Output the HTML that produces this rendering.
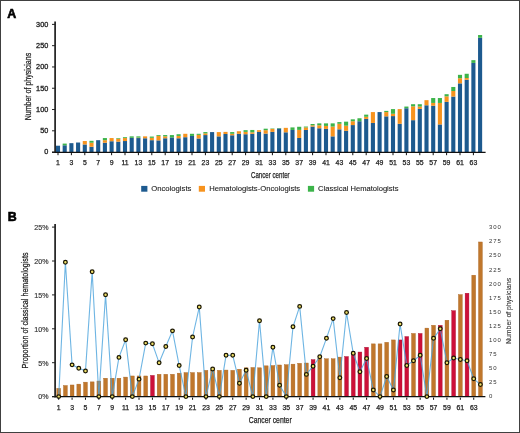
<!DOCTYPE html>
<html><head><meta charset="utf-8"><style>
html,body{margin:0;padding:0;background:#fff;}
#c{position:relative;will-change:transform;width:520px;height:433px;overflow:hidden;background:#fff;}
svg{position:absolute;left:0;top:0;filter:blur(0.3px);}
#b{position:absolute;left:0;top:0;width:518px;height:431px;border:1px solid #404040;}
</style></head><body><div id="c">
<svg width="520" height="433" viewBox="0 0 520 433">
<rect x="0" y="0" width="520" height="433" fill="#fff"/>
<text x="7.2" y="17.6" font-family="Liberation Sans, sans-serif" font-weight="bold" font-size="12.4" fill="#000" stroke="#000" stroke-width="0.6">A</text>
<rect x="55.95" y="145.71" width="4.1" height="6.39" fill="#1d5a8f"/>
<rect x="62.65" y="145.29" width="4.1" height="6.81" fill="#1d5a8f"/>
<rect x="62.65" y="143.59" width="4.1" height="1.70" fill="#3cb44a"/>
<rect x="69.35" y="143.16" width="4.1" height="8.94" fill="#1d5a8f"/>
<rect x="76.05" y="142.52" width="4.1" height="9.58" fill="#1d5a8f"/>
<rect x="82.75" y="144.44" width="4.1" height="7.66" fill="#1d5a8f"/>
<rect x="82.75" y="141.03" width="4.1" height="3.41" fill="#f7931e"/>
<rect x="89.45" y="146.78" width="4.1" height="5.32" fill="#1d5a8f"/>
<rect x="89.45" y="142.73" width="4.1" height="4.04" fill="#f7931e"/>
<rect x="89.45" y="140.82" width="4.1" height="1.92" fill="#3cb44a"/>
<rect x="96.15" y="140.18" width="4.1" height="11.92" fill="#1d5a8f"/>
<rect x="102.85" y="142.73" width="4.1" height="9.37" fill="#1d5a8f"/>
<rect x="102.85" y="140.18" width="4.1" height="2.55" fill="#f7931e"/>
<rect x="102.85" y="138.05" width="4.1" height="2.13" fill="#3cb44a"/>
<rect x="109.55" y="141.24" width="4.1" height="10.86" fill="#1d5a8f"/>
<rect x="109.55" y="138.05" width="4.1" height="3.19" fill="#f7931e"/>
<rect x="116.25" y="141.67" width="4.1" height="10.43" fill="#1d5a8f"/>
<rect x="116.25" y="138.69" width="4.1" height="2.98" fill="#f7931e"/>
<rect x="116.25" y="138.05" width="4.1" height="0.64" fill="#3cb44a"/>
<rect x="122.95" y="141.03" width="4.1" height="11.07" fill="#1d5a8f"/>
<rect x="122.95" y="138.05" width="4.1" height="2.98" fill="#f7931e"/>
<rect x="122.95" y="137.20" width="4.1" height="0.85" fill="#3cb44a"/>
<rect x="129.65" y="137.84" width="4.1" height="14.26" fill="#1d5a8f"/>
<rect x="129.65" y="136.35" width="4.1" height="1.49" fill="#3cb44a"/>
<rect x="136.35" y="138.05" width="4.1" height="14.05" fill="#1d5a8f"/>
<rect x="136.35" y="137.63" width="4.1" height="0.43" fill="#f7931e"/>
<rect x="136.35" y="136.35" width="4.1" height="1.28" fill="#3cb44a"/>
<rect x="143.05" y="138.26" width="4.1" height="13.84" fill="#1d5a8f"/>
<rect x="143.05" y="136.35" width="4.1" height="1.92" fill="#f7931e"/>
<rect x="149.75" y="140.18" width="4.1" height="11.92" fill="#1d5a8f"/>
<rect x="149.75" y="137.84" width="4.1" height="2.34" fill="#f7931e"/>
<rect x="149.75" y="136.56" width="4.1" height="1.28" fill="#3cb44a"/>
<rect x="156.45" y="140.39" width="4.1" height="11.71" fill="#1d5a8f"/>
<rect x="156.45" y="135.92" width="4.1" height="4.47" fill="#f7931e"/>
<rect x="156.45" y="135.07" width="4.1" height="0.85" fill="#3cb44a"/>
<rect x="163.15" y="138.26" width="4.1" height="13.84" fill="#1d5a8f"/>
<rect x="163.15" y="136.35" width="4.1" height="1.92" fill="#f7931e"/>
<rect x="163.15" y="135.07" width="4.1" height="1.28" fill="#3cb44a"/>
<rect x="169.85" y="137.41" width="4.1" height="14.69" fill="#1d5a8f"/>
<rect x="169.85" y="135.07" width="4.1" height="2.34" fill="#3cb44a"/>
<rect x="176.55" y="138.26" width="4.1" height="13.84" fill="#1d5a8f"/>
<rect x="176.55" y="135.92" width="4.1" height="2.34" fill="#f7931e"/>
<rect x="176.55" y="134.22" width="4.1" height="1.70" fill="#3cb44a"/>
<rect x="183.25" y="137.20" width="4.1" height="14.90" fill="#1d5a8f"/>
<rect x="183.25" y="133.79" width="4.1" height="3.41" fill="#f7931e"/>
<rect x="189.95" y="135.92" width="4.1" height="16.18" fill="#1d5a8f"/>
<rect x="189.95" y="133.79" width="4.1" height="2.13" fill="#3cb44a"/>
<rect x="196.65" y="138.48" width="4.1" height="13.62" fill="#1d5a8f"/>
<rect x="196.65" y="134.86" width="4.1" height="3.62" fill="#f7931e"/>
<rect x="196.65" y="133.79" width="4.1" height="1.06" fill="#3cb44a"/>
<rect x="203.35" y="135.07" width="4.1" height="17.03" fill="#1d5a8f"/>
<rect x="203.35" y="133.37" width="4.1" height="1.70" fill="#f7931e"/>
<rect x="203.35" y="132.09" width="4.1" height="1.28" fill="#3cb44a"/>
<rect x="210.05" y="132.09" width="4.1" height="20.01" fill="#1d5a8f"/>
<rect x="216.75" y="136.35" width="4.1" height="15.75" fill="#1d5a8f"/>
<rect x="216.75" y="132.09" width="4.1" height="4.26" fill="#f7931e"/>
<rect x="223.45" y="134.01" width="4.1" height="18.09" fill="#1d5a8f"/>
<rect x="223.45" y="131.88" width="4.1" height="2.13" fill="#f7931e"/>
<rect x="230.15" y="135.28" width="4.1" height="16.82" fill="#1d5a8f"/>
<rect x="230.15" y="133.79" width="4.1" height="1.49" fill="#f7931e"/>
<rect x="230.15" y="132.09" width="4.1" height="1.70" fill="#3cb44a"/>
<rect x="236.85" y="133.79" width="4.1" height="18.31" fill="#1d5a8f"/>
<rect x="236.85" y="131.24" width="4.1" height="2.55" fill="#f7931e"/>
<rect x="243.55" y="134.22" width="4.1" height="17.88" fill="#1d5a8f"/>
<rect x="243.55" y="131.88" width="4.1" height="2.34" fill="#f7931e"/>
<rect x="243.55" y="130.18" width="4.1" height="1.70" fill="#3cb44a"/>
<rect x="250.25" y="133.79" width="4.1" height="18.31" fill="#1d5a8f"/>
<rect x="250.25" y="132.30" width="4.1" height="1.49" fill="#f7931e"/>
<rect x="250.25" y="129.96" width="4.1" height="2.34" fill="#3cb44a"/>
<rect x="256.95" y="131.88" width="4.1" height="20.22" fill="#1d5a8f"/>
<rect x="256.95" y="130.18" width="4.1" height="1.70" fill="#f7931e"/>
<rect x="263.65" y="133.58" width="4.1" height="18.52" fill="#1d5a8f"/>
<rect x="263.65" y="130.18" width="4.1" height="3.41" fill="#f7931e"/>
<rect x="263.65" y="128.69" width="4.1" height="1.49" fill="#3cb44a"/>
<rect x="270.35" y="131.88" width="4.1" height="20.22" fill="#1d5a8f"/>
<rect x="270.35" y="128.90" width="4.1" height="2.98" fill="#f7931e"/>
<rect x="270.35" y="128.47" width="4.1" height="0.43" fill="#3cb44a"/>
<rect x="277.05" y="128.47" width="4.1" height="23.63" fill="#1d5a8f"/>
<rect x="277.05" y="128.05" width="4.1" height="0.43" fill="#3cb44a"/>
<rect x="283.75" y="132.30" width="4.1" height="19.80" fill="#1d5a8f"/>
<rect x="283.75" y="127.84" width="4.1" height="4.47" fill="#f7931e"/>
<rect x="290.45" y="129.96" width="4.1" height="22.14" fill="#1d5a8f"/>
<rect x="290.45" y="127.41" width="4.1" height="2.55" fill="#3cb44a"/>
<rect x="297.15" y="137.97" width="4.1" height="14.13" fill="#1d5a8f"/>
<rect x="297.15" y="129.88" width="4.1" height="8.09" fill="#f7931e"/>
<rect x="297.15" y="126.77" width="4.1" height="3.11" fill="#3cb44a"/>
<rect x="303.85" y="129.96" width="4.1" height="22.14" fill="#1d5a8f"/>
<rect x="303.85" y="127.41" width="4.1" height="2.55" fill="#f7931e"/>
<rect x="303.85" y="126.56" width="4.1" height="0.85" fill="#3cb44a"/>
<rect x="310.55" y="126.56" width="4.1" height="25.54" fill="#1d5a8f"/>
<rect x="310.55" y="125.28" width="4.1" height="1.28" fill="#f7931e"/>
<rect x="310.55" y="124.00" width="4.1" height="1.28" fill="#3cb44a"/>
<rect x="317.25" y="128.26" width="4.1" height="23.84" fill="#1d5a8f"/>
<rect x="317.25" y="125.28" width="4.1" height="2.98" fill="#f7931e"/>
<rect x="317.25" y="123.37" width="4.1" height="1.92" fill="#3cb44a"/>
<rect x="323.95" y="128.90" width="4.1" height="23.20" fill="#1d5a8f"/>
<rect x="323.95" y="125.92" width="4.1" height="2.98" fill="#f7931e"/>
<rect x="323.95" y="123.37" width="4.1" height="2.55" fill="#3cb44a"/>
<rect x="330.65" y="136.35" width="4.1" height="15.75" fill="#1d5a8f"/>
<rect x="330.65" y="126.56" width="4.1" height="9.79" fill="#f7931e"/>
<rect x="330.65" y="123.37" width="4.1" height="3.19" fill="#3cb44a"/>
<rect x="337.35" y="129.33" width="4.1" height="22.77" fill="#1d5a8f"/>
<rect x="337.35" y="123.79" width="4.1" height="5.53" fill="#f7931e"/>
<rect x="337.35" y="122.09" width="4.1" height="1.70" fill="#3cb44a"/>
<rect x="344.05" y="130.81" width="4.1" height="21.28" fill="#1d5a8f"/>
<rect x="344.05" y="125.71" width="4.1" height="5.11" fill="#f7931e"/>
<rect x="344.05" y="121.66" width="4.1" height="4.04" fill="#3cb44a"/>
<rect x="350.75" y="125.07" width="4.1" height="27.03" fill="#1d5a8f"/>
<rect x="350.75" y="121.24" width="4.1" height="3.83" fill="#f7931e"/>
<rect x="350.75" y="119.32" width="4.1" height="1.92" fill="#3cb44a"/>
<rect x="357.45" y="121.24" width="4.1" height="30.86" fill="#1d5a8f"/>
<rect x="357.45" y="118.26" width="4.1" height="2.98" fill="#3cb44a"/>
<rect x="364.15" y="118.90" width="4.1" height="33.20" fill="#1d5a8f"/>
<rect x="364.15" y="116.77" width="4.1" height="2.13" fill="#f7931e"/>
<rect x="364.15" y="114.64" width="4.1" height="2.13" fill="#3cb44a"/>
<rect x="370.85" y="122.94" width="4.1" height="29.16" fill="#1d5a8f"/>
<rect x="370.85" y="112.08" width="4.1" height="10.86" fill="#f7931e"/>
<rect x="377.55" y="112.08" width="4.1" height="40.02" fill="#1d5a8f"/>
<rect x="384.25" y="116.34" width="4.1" height="35.76" fill="#1d5a8f"/>
<rect x="384.25" y="112.08" width="4.1" height="4.26" fill="#f7931e"/>
<rect x="384.25" y="110.89" width="4.1" height="1.19" fill="#3cb44a"/>
<rect x="390.95" y="116.09" width="4.1" height="36.01" fill="#1d5a8f"/>
<rect x="390.95" y="113.79" width="4.1" height="2.30" fill="#f7931e"/>
<rect x="390.95" y="109.10" width="4.1" height="4.68" fill="#3cb44a"/>
<rect x="397.65" y="123.79" width="4.1" height="28.31" fill="#1d5a8f"/>
<rect x="397.65" y="109.10" width="4.1" height="14.69" fill="#f7931e"/>
<rect x="404.35" y="108.25" width="4.1" height="43.85" fill="#1d5a8f"/>
<rect x="404.35" y="106.55" width="4.1" height="1.70" fill="#3cb44a"/>
<rect x="411.05" y="120.17" width="4.1" height="31.93" fill="#1d5a8f"/>
<rect x="411.05" y="106.34" width="4.1" height="13.84" fill="#f7931e"/>
<rect x="411.05" y="104.21" width="4.1" height="2.13" fill="#3cb44a"/>
<rect x="417.75" y="108.89" width="4.1" height="43.21" fill="#1d5a8f"/>
<rect x="417.75" y="106.55" width="4.1" height="2.34" fill="#f7931e"/>
<rect x="417.75" y="104.21" width="4.1" height="2.34" fill="#3cb44a"/>
<rect x="424.45" y="105.27" width="4.1" height="46.83" fill="#1d5a8f"/>
<rect x="424.45" y="100.16" width="4.1" height="5.11" fill="#f7931e"/>
<rect x="431.15" y="105.70" width="4.1" height="46.40" fill="#1d5a8f"/>
<rect x="431.15" y="102.93" width="4.1" height="2.77" fill="#f7931e"/>
<rect x="431.15" y="98.04" width="4.1" height="4.90" fill="#3cb44a"/>
<rect x="437.85" y="124.43" width="4.1" height="27.67" fill="#1d5a8f"/>
<rect x="437.85" y="102.93" width="4.1" height="21.50" fill="#f7931e"/>
<rect x="437.85" y="98.04" width="4.1" height="4.90" fill="#3cb44a"/>
<rect x="444.55" y="101.87" width="4.1" height="50.23" fill="#1d5a8f"/>
<rect x="444.55" y="96.33" width="4.1" height="5.53" fill="#f7931e"/>
<rect x="444.55" y="94.20" width="4.1" height="2.13" fill="#3cb44a"/>
<rect x="451.25" y="96.55" width="4.1" height="55.55" fill="#1d5a8f"/>
<rect x="451.25" y="91.01" width="4.1" height="5.53" fill="#f7931e"/>
<rect x="451.25" y="86.97" width="4.1" height="4.04" fill="#3cb44a"/>
<rect x="457.95" y="83.35" width="4.1" height="68.75" fill="#1d5a8f"/>
<rect x="457.95" y="78.24" width="4.1" height="5.11" fill="#f7931e"/>
<rect x="457.95" y="74.84" width="4.1" height="3.41" fill="#3cb44a"/>
<rect x="464.65" y="79.73" width="4.1" height="72.37" fill="#1d5a8f"/>
<rect x="464.65" y="78.03" width="4.1" height="1.70" fill="#f7931e"/>
<rect x="464.65" y="73.77" width="4.1" height="4.26" fill="#3cb44a"/>
<rect x="471.35" y="62.92" width="4.1" height="89.18" fill="#1d5a8f"/>
<rect x="471.35" y="60.15" width="4.1" height="2.77" fill="#3cb44a"/>
<rect x="478.05" y="37.80" width="4.1" height="114.30" fill="#1d5a8f"/>
<rect x="478.05" y="35.03" width="4.1" height="2.77" fill="#3cb44a"/>
<line x1="55.1" y1="21.5" x2="55.1" y2="152.9" stroke="#111" stroke-width="1.6"/>
<line x1="52" y1="152.35" x2="485.6" y2="152.35" stroke="#111" stroke-width="1.15"/>
<line x1="52" y1="152.10" x2="55" y2="152.10" stroke="#222" stroke-width="1"/>
<text x="48.3" y="154.40" font-family="Liberation Sans, sans-serif" font-size="7.3" fill="#222" stroke="#222" stroke-width="0.3" text-anchor="end">0</text>
<line x1="52" y1="130.81" x2="55" y2="130.81" stroke="#222" stroke-width="1"/>
<text x="48.3" y="133.12" font-family="Liberation Sans, sans-serif" font-size="7.3" fill="#222" stroke="#222" stroke-width="0.3" text-anchor="end">50</text>
<line x1="52" y1="109.53" x2="55" y2="109.53" stroke="#222" stroke-width="1"/>
<text x="48.3" y="111.83" font-family="Liberation Sans, sans-serif" font-size="7.3" fill="#222" stroke="#222" stroke-width="0.3" text-anchor="end">100</text>
<line x1="52" y1="88.24" x2="55" y2="88.24" stroke="#222" stroke-width="1"/>
<text x="48.3" y="90.54" font-family="Liberation Sans, sans-serif" font-size="7.3" fill="#222" stroke="#222" stroke-width="0.3" text-anchor="end">150</text>
<line x1="52" y1="66.96" x2="55" y2="66.96" stroke="#222" stroke-width="1"/>
<text x="48.3" y="69.26" font-family="Liberation Sans, sans-serif" font-size="7.3" fill="#222" stroke="#222" stroke-width="0.3" text-anchor="end">200</text>
<line x1="52" y1="45.67" x2="55" y2="45.67" stroke="#222" stroke-width="1"/>
<text x="48.3" y="47.97" font-family="Liberation Sans, sans-serif" font-size="7.3" fill="#222" stroke="#222" stroke-width="0.3" text-anchor="end">250</text>
<line x1="52" y1="24.39" x2="55" y2="24.39" stroke="#222" stroke-width="1"/>
<text x="48.3" y="26.69" font-family="Liberation Sans, sans-serif" font-size="7.3" fill="#222" stroke="#222" stroke-width="0.3" text-anchor="end">300</text>
<line x1="58.00" y1="153" x2="58.00" y2="155.2" stroke="#111" stroke-width="1"/>
<text x="58.00" y="164.6" font-family="Liberation Sans, sans-serif" font-size="6.9" fill="#222" stroke="#222" stroke-width="0.25" text-anchor="middle">1</text>
<line x1="71.40" y1="153" x2="71.40" y2="155.2" stroke="#111" stroke-width="1"/>
<text x="71.40" y="164.6" font-family="Liberation Sans, sans-serif" font-size="6.9" fill="#222" stroke="#222" stroke-width="0.25" text-anchor="middle">3</text>
<line x1="84.80" y1="153" x2="84.80" y2="155.2" stroke="#111" stroke-width="1"/>
<text x="84.80" y="164.6" font-family="Liberation Sans, sans-serif" font-size="6.9" fill="#222" stroke="#222" stroke-width="0.25" text-anchor="middle">5</text>
<line x1="98.20" y1="153" x2="98.20" y2="155.2" stroke="#111" stroke-width="1"/>
<text x="98.20" y="164.6" font-family="Liberation Sans, sans-serif" font-size="6.9" fill="#222" stroke="#222" stroke-width="0.25" text-anchor="middle">7</text>
<line x1="111.60" y1="153" x2="111.60" y2="155.2" stroke="#111" stroke-width="1"/>
<text x="111.60" y="164.6" font-family="Liberation Sans, sans-serif" font-size="6.9" fill="#222" stroke="#222" stroke-width="0.25" text-anchor="middle">9</text>
<line x1="125.00" y1="153" x2="125.00" y2="155.2" stroke="#111" stroke-width="1"/>
<text x="125.00" y="164.6" font-family="Liberation Sans, sans-serif" font-size="6.9" fill="#222" stroke="#222" stroke-width="0.25" text-anchor="middle">11</text>
<line x1="138.40" y1="153" x2="138.40" y2="155.2" stroke="#111" stroke-width="1"/>
<text x="138.40" y="164.6" font-family="Liberation Sans, sans-serif" font-size="6.9" fill="#222" stroke="#222" stroke-width="0.25" text-anchor="middle">13</text>
<line x1="151.80" y1="153" x2="151.80" y2="155.2" stroke="#111" stroke-width="1"/>
<text x="151.80" y="164.6" font-family="Liberation Sans, sans-serif" font-size="6.9" fill="#222" stroke="#222" stroke-width="0.25" text-anchor="middle">15</text>
<line x1="165.20" y1="153" x2="165.20" y2="155.2" stroke="#111" stroke-width="1"/>
<text x="165.20" y="164.6" font-family="Liberation Sans, sans-serif" font-size="6.9" fill="#222" stroke="#222" stroke-width="0.25" text-anchor="middle">17</text>
<line x1="178.60" y1="153" x2="178.60" y2="155.2" stroke="#111" stroke-width="1"/>
<text x="178.60" y="164.6" font-family="Liberation Sans, sans-serif" font-size="6.9" fill="#222" stroke="#222" stroke-width="0.25" text-anchor="middle">19</text>
<line x1="192.00" y1="153" x2="192.00" y2="155.2" stroke="#111" stroke-width="1"/>
<text x="192.00" y="164.6" font-family="Liberation Sans, sans-serif" font-size="6.9" fill="#222" stroke="#222" stroke-width="0.25" text-anchor="middle">21</text>
<line x1="205.40" y1="153" x2="205.40" y2="155.2" stroke="#111" stroke-width="1"/>
<text x="205.40" y="164.6" font-family="Liberation Sans, sans-serif" font-size="6.9" fill="#222" stroke="#222" stroke-width="0.25" text-anchor="middle">23</text>
<line x1="218.80" y1="153" x2="218.80" y2="155.2" stroke="#111" stroke-width="1"/>
<text x="218.80" y="164.6" font-family="Liberation Sans, sans-serif" font-size="6.9" fill="#222" stroke="#222" stroke-width="0.25" text-anchor="middle">25</text>
<line x1="232.20" y1="153" x2="232.20" y2="155.2" stroke="#111" stroke-width="1"/>
<text x="232.20" y="164.6" font-family="Liberation Sans, sans-serif" font-size="6.9" fill="#222" stroke="#222" stroke-width="0.25" text-anchor="middle">27</text>
<line x1="245.60" y1="153" x2="245.60" y2="155.2" stroke="#111" stroke-width="1"/>
<text x="245.60" y="164.6" font-family="Liberation Sans, sans-serif" font-size="6.9" fill="#222" stroke="#222" stroke-width="0.25" text-anchor="middle">29</text>
<line x1="259.00" y1="153" x2="259.00" y2="155.2" stroke="#111" stroke-width="1"/>
<text x="259.00" y="164.6" font-family="Liberation Sans, sans-serif" font-size="6.9" fill="#222" stroke="#222" stroke-width="0.25" text-anchor="middle">31</text>
<line x1="272.40" y1="153" x2="272.40" y2="155.2" stroke="#111" stroke-width="1"/>
<text x="272.40" y="164.6" font-family="Liberation Sans, sans-serif" font-size="6.9" fill="#222" stroke="#222" stroke-width="0.25" text-anchor="middle">33</text>
<line x1="285.80" y1="153" x2="285.80" y2="155.2" stroke="#111" stroke-width="1"/>
<text x="285.80" y="164.6" font-family="Liberation Sans, sans-serif" font-size="6.9" fill="#222" stroke="#222" stroke-width="0.25" text-anchor="middle">35</text>
<line x1="299.20" y1="153" x2="299.20" y2="155.2" stroke="#111" stroke-width="1"/>
<text x="299.20" y="164.6" font-family="Liberation Sans, sans-serif" font-size="6.9" fill="#222" stroke="#222" stroke-width="0.25" text-anchor="middle">37</text>
<line x1="312.60" y1="153" x2="312.60" y2="155.2" stroke="#111" stroke-width="1"/>
<text x="312.60" y="164.6" font-family="Liberation Sans, sans-serif" font-size="6.9" fill="#222" stroke="#222" stroke-width="0.25" text-anchor="middle">39</text>
<line x1="326.00" y1="153" x2="326.00" y2="155.2" stroke="#111" stroke-width="1"/>
<text x="326.00" y="164.6" font-family="Liberation Sans, sans-serif" font-size="6.9" fill="#222" stroke="#222" stroke-width="0.25" text-anchor="middle">41</text>
<line x1="339.40" y1="153" x2="339.40" y2="155.2" stroke="#111" stroke-width="1"/>
<text x="339.40" y="164.6" font-family="Liberation Sans, sans-serif" font-size="6.9" fill="#222" stroke="#222" stroke-width="0.25" text-anchor="middle">43</text>
<line x1="352.80" y1="153" x2="352.80" y2="155.2" stroke="#111" stroke-width="1"/>
<text x="352.80" y="164.6" font-family="Liberation Sans, sans-serif" font-size="6.9" fill="#222" stroke="#222" stroke-width="0.25" text-anchor="middle">45</text>
<line x1="366.20" y1="153" x2="366.20" y2="155.2" stroke="#111" stroke-width="1"/>
<text x="366.20" y="164.6" font-family="Liberation Sans, sans-serif" font-size="6.9" fill="#222" stroke="#222" stroke-width="0.25" text-anchor="middle">47</text>
<line x1="379.60" y1="153" x2="379.60" y2="155.2" stroke="#111" stroke-width="1"/>
<text x="379.60" y="164.6" font-family="Liberation Sans, sans-serif" font-size="6.9" fill="#222" stroke="#222" stroke-width="0.25" text-anchor="middle">49</text>
<line x1="393.00" y1="153" x2="393.00" y2="155.2" stroke="#111" stroke-width="1"/>
<text x="393.00" y="164.6" font-family="Liberation Sans, sans-serif" font-size="6.9" fill="#222" stroke="#222" stroke-width="0.25" text-anchor="middle">51</text>
<line x1="406.40" y1="153" x2="406.40" y2="155.2" stroke="#111" stroke-width="1"/>
<text x="406.40" y="164.6" font-family="Liberation Sans, sans-serif" font-size="6.9" fill="#222" stroke="#222" stroke-width="0.25" text-anchor="middle">53</text>
<line x1="419.80" y1="153" x2="419.80" y2="155.2" stroke="#111" stroke-width="1"/>
<text x="419.80" y="164.6" font-family="Liberation Sans, sans-serif" font-size="6.9" fill="#222" stroke="#222" stroke-width="0.25" text-anchor="middle">55</text>
<line x1="433.20" y1="153" x2="433.20" y2="155.2" stroke="#111" stroke-width="1"/>
<text x="433.20" y="164.6" font-family="Liberation Sans, sans-serif" font-size="6.9" fill="#222" stroke="#222" stroke-width="0.25" text-anchor="middle">57</text>
<line x1="446.60" y1="153" x2="446.60" y2="155.2" stroke="#111" stroke-width="1"/>
<text x="446.60" y="164.6" font-family="Liberation Sans, sans-serif" font-size="6.9" fill="#222" stroke="#222" stroke-width="0.25" text-anchor="middle">59</text>
<line x1="460.00" y1="153" x2="460.00" y2="155.2" stroke="#111" stroke-width="1"/>
<text x="460.00" y="164.6" font-family="Liberation Sans, sans-serif" font-size="6.9" fill="#222" stroke="#222" stroke-width="0.25" text-anchor="middle">61</text>
<line x1="473.40" y1="153" x2="473.40" y2="155.2" stroke="#111" stroke-width="1"/>
<text x="473.40" y="164.6" font-family="Liberation Sans, sans-serif" font-size="6.9" fill="#222" stroke="#222" stroke-width="0.25" text-anchor="middle">63</text>
<text x="251" y="177.5" font-family="Liberation Sans, sans-serif" font-size="8.6" fill="#222" stroke="#222" stroke-width="0.25" textLength="38.6" lengthAdjust="spacingAndGlyphs">Cancer center</text>
<text transform="translate(31,120.3) rotate(-90)" x="0" y="0" font-family="Liberation Sans, sans-serif" font-size="9.4" fill="#222" stroke="#222" stroke-width="0.25" textLength="67.5" lengthAdjust="spacingAndGlyphs">Number of physicians</text>
<rect x="141.2" y="185.9" width="6.2" height="5.8" fill="#1d5a8f"/>
<text x="151.2" y="191.4" font-family="Liberation Sans, sans-serif" font-size="7.6" fill="#1a1a1a" stroke="#1a1a1a" stroke-width="0.1" textLength="40.2" lengthAdjust="spacingAndGlyphs">Oncologists</text>
<rect x="198.8" y="185.9" width="6.2" height="5.8" fill="#f7931e"/>
<text x="209.2" y="191.4" font-family="Liberation Sans, sans-serif" font-size="7.6" fill="#1a1a1a" stroke="#1a1a1a" stroke-width="0.1" textLength="91" lengthAdjust="spacingAndGlyphs">Hematologists-Oncologists</text>
<rect x="307.9" y="185.9" width="6.2" height="5.8" fill="#3cb44a"/>
<text x="318" y="191.4" font-family="Liberation Sans, sans-serif" font-size="7.6" fill="#1a1a1a" stroke="#1a1a1a" stroke-width="0.1" textLength="80.5" lengthAdjust="spacingAndGlyphs">Classical Hematologists</text>
<text x="7.8" y="220.6" font-family="Liberation Sans, sans-serif" font-weight="bold" font-size="12.4" fill="#000" stroke="#000" stroke-width="0.6">B</text>
<rect x="56.80" y="388.36" width="3.80" height="8.24" fill="#c0772c" stroke="#a9631f" stroke-width="0.4"/>
<rect x="63.49" y="385.54" width="3.80" height="11.06" fill="#c0772c" stroke="#a9631f" stroke-width="0.4"/>
<rect x="70.19" y="384.98" width="3.80" height="11.62" fill="#c0772c" stroke="#a9631f" stroke-width="0.4"/>
<rect x="76.88" y="384.13" width="3.80" height="12.47" fill="#c0772c" stroke="#a9631f" stroke-width="0.4"/>
<rect x="83.58" y="382.16" width="3.80" height="14.44" fill="#c0772c" stroke="#a9631f" stroke-width="0.4"/>
<rect x="90.27" y="381.88" width="3.80" height="14.72" fill="#c0772c" stroke="#a9631f" stroke-width="0.4"/>
<rect x="96.96" y="381.04" width="3.80" height="15.56" fill="#c0772c" stroke="#a9631f" stroke-width="0.4"/>
<rect x="103.66" y="378.22" width="3.80" height="18.38" fill="#c0772c" stroke="#a9631f" stroke-width="0.4"/>
<rect x="110.35" y="378.22" width="3.80" height="18.38" fill="#c0772c" stroke="#a9631f" stroke-width="0.4"/>
<rect x="117.05" y="378.22" width="3.80" height="18.38" fill="#c0772c" stroke="#a9631f" stroke-width="0.4"/>
<rect x="123.74" y="377.10" width="3.80" height="19.50" fill="#c0772c" stroke="#a9631f" stroke-width="0.4"/>
<rect x="130.43" y="375.97" width="3.80" height="20.63" fill="#c0772c" stroke="#a9631f" stroke-width="0.4"/>
<rect x="137.13" y="375.97" width="3.80" height="20.63" fill="#c0772c" stroke="#a9631f" stroke-width="0.4"/>
<rect x="143.82" y="375.97" width="3.80" height="20.63" fill="#c0772c" stroke="#a9631f" stroke-width="0.4"/>
<rect x="150.52" y="375.41" width="3.80" height="21.19" fill="#cd1039" stroke="#a80f30" stroke-width="0.4"/>
<rect x="157.21" y="374.28" width="3.80" height="22.32" fill="#c0772c" stroke="#a9631f" stroke-width="0.4"/>
<rect x="163.90" y="374.28" width="3.80" height="22.32" fill="#c0772c" stroke="#a9631f" stroke-width="0.4"/>
<rect x="170.60" y="374.28" width="3.80" height="22.32" fill="#c0772c" stroke="#a9631f" stroke-width="0.4"/>
<rect x="177.29" y="373.15" width="3.80" height="23.45" fill="#c0772c" stroke="#a9631f" stroke-width="0.4"/>
<rect x="183.99" y="372.59" width="3.80" height="24.01" fill="#c0772c" stroke="#a9631f" stroke-width="0.4"/>
<rect x="190.68" y="372.59" width="3.80" height="24.01" fill="#c0772c" stroke="#a9631f" stroke-width="0.4"/>
<rect x="197.37" y="372.59" width="3.80" height="24.01" fill="#c0772c" stroke="#a9631f" stroke-width="0.4"/>
<rect x="204.07" y="370.34" width="3.80" height="26.26" fill="#c0772c" stroke="#a9631f" stroke-width="0.4"/>
<rect x="210.76" y="370.34" width="3.80" height="26.26" fill="#c0772c" stroke="#a9631f" stroke-width="0.4"/>
<rect x="217.46" y="370.34" width="3.80" height="26.26" fill="#c0772c" stroke="#a9631f" stroke-width="0.4"/>
<rect x="224.15" y="370.06" width="3.80" height="26.54" fill="#c0772c" stroke="#a9631f" stroke-width="0.4"/>
<rect x="230.84" y="370.34" width="3.80" height="26.26" fill="#c0772c" stroke="#a9631f" stroke-width="0.4"/>
<rect x="237.54" y="369.21" width="3.80" height="27.39" fill="#c0772c" stroke="#a9631f" stroke-width="0.4"/>
<rect x="244.23" y="367.81" width="3.80" height="28.79" fill="#c0772c" stroke="#a9631f" stroke-width="0.4"/>
<rect x="250.93" y="367.52" width="3.80" height="29.08" fill="#c0772c" stroke="#a9631f" stroke-width="0.4"/>
<rect x="257.62" y="367.81" width="3.80" height="28.79" fill="#c0772c" stroke="#a9631f" stroke-width="0.4"/>
<rect x="264.31" y="365.84" width="3.80" height="30.76" fill="#c0772c" stroke="#a9631f" stroke-width="0.4"/>
<rect x="271.01" y="365.55" width="3.80" height="31.05" fill="#c0772c" stroke="#a9631f" stroke-width="0.4"/>
<rect x="277.70" y="364.99" width="3.80" height="31.61" fill="#c0772c" stroke="#a9631f" stroke-width="0.4"/>
<rect x="284.40" y="364.71" width="3.80" height="31.89" fill="#c0772c" stroke="#a9631f" stroke-width="0.4"/>
<rect x="291.09" y="364.15" width="3.80" height="32.45" fill="#c0772c" stroke="#a9631f" stroke-width="0.4"/>
<rect x="297.78" y="363.30" width="3.80" height="33.30" fill="#c0772c" stroke="#a9631f" stroke-width="0.4"/>
<rect x="304.48" y="363.02" width="3.80" height="33.58" fill="#c0772c" stroke="#a9631f" stroke-width="0.4"/>
<rect x="311.17" y="359.64" width="3.80" height="36.96" fill="#cd1039" stroke="#a80f30" stroke-width="0.4"/>
<rect x="317.87" y="358.80" width="3.80" height="37.80" fill="#c0772c" stroke="#a9631f" stroke-width="0.4"/>
<rect x="324.56" y="358.80" width="3.80" height="37.80" fill="#c0772c" stroke="#a9631f" stroke-width="0.4"/>
<rect x="331.25" y="358.80" width="3.80" height="37.80" fill="#c0772c" stroke="#a9631f" stroke-width="0.4"/>
<rect x="337.95" y="357.11" width="3.80" height="39.49" fill="#c0772c" stroke="#a9631f" stroke-width="0.4"/>
<rect x="344.64" y="356.55" width="3.80" height="40.05" fill="#cd1039" stroke="#a80f30" stroke-width="0.4"/>
<rect x="351.34" y="353.45" width="3.80" height="43.15" fill="#cd1039" stroke="#a80f30" stroke-width="0.4"/>
<rect x="358.03" y="352.04" width="3.80" height="44.56" fill="#cd1039" stroke="#a80f30" stroke-width="0.4"/>
<rect x="364.72" y="347.26" width="3.80" height="49.34" fill="#cd1039" stroke="#a80f30" stroke-width="0.4"/>
<rect x="371.42" y="343.88" width="3.80" height="52.72" fill="#c0772c" stroke="#a9631f" stroke-width="0.4"/>
<rect x="378.11" y="343.88" width="3.80" height="52.72" fill="#c0772c" stroke="#a9631f" stroke-width="0.4"/>
<rect x="384.81" y="342.30" width="3.80" height="54.30" fill="#c0772c" stroke="#a9631f" stroke-width="0.4"/>
<rect x="391.50" y="339.94" width="3.80" height="56.66" fill="#c0772c" stroke="#a9631f" stroke-width="0.4"/>
<rect x="398.19" y="339.94" width="3.80" height="56.66" fill="#cd1039" stroke="#a80f30" stroke-width="0.4"/>
<rect x="404.89" y="336.56" width="3.80" height="60.04" fill="#cd1039" stroke="#a80f30" stroke-width="0.4"/>
<rect x="411.58" y="333.46" width="3.80" height="63.14" fill="#c0772c" stroke="#a9631f" stroke-width="0.4"/>
<rect x="418.28" y="333.46" width="3.80" height="63.14" fill="#cd1039" stroke="#a80f30" stroke-width="0.4"/>
<rect x="424.97" y="328.11" width="3.80" height="68.49" fill="#c0772c" stroke="#a9631f" stroke-width="0.4"/>
<rect x="431.66" y="325.30" width="3.80" height="71.30" fill="#c0772c" stroke="#a9631f" stroke-width="0.4"/>
<rect x="438.36" y="325.30" width="3.80" height="71.30" fill="#cd1039" stroke="#a80f30" stroke-width="0.4"/>
<rect x="445.05" y="320.23" width="3.80" height="76.37" fill="#c0772c" stroke="#a9631f" stroke-width="0.4"/>
<rect x="451.75" y="310.66" width="3.80" height="85.94" fill="#cd1039" stroke="#a80f30" stroke-width="0.4"/>
<rect x="458.44" y="294.62" width="3.80" height="101.98" fill="#c0772c" stroke="#a9631f" stroke-width="0.4"/>
<rect x="465.13" y="293.21" width="3.80" height="103.39" fill="#cd1039" stroke="#a80f30" stroke-width="0.4"/>
<rect x="471.83" y="275.19" width="3.80" height="121.41" fill="#c0772c" stroke="#a9631f" stroke-width="0.4"/>
<rect x="478.52" y="241.98" width="3.80" height="154.62" fill="#c0772c" stroke="#a9631f" stroke-width="0.4"/>
<polyline points="58.70,396.60 65.39,262.18 72.09,364.86 78.78,368.26 85.48,370.98 92.17,271.70 98.86,396.60 105.56,294.82 112.25,396.60 118.95,357.38 125.64,339.70 132.33,396.60 139.03,379.14 145.72,343.10 152.42,343.78 159.11,362.82 165.80,346.50 172.50,330.86 179.19,365.54 185.89,396.60 192.58,336.98 199.27,307.06 205.97,396.60 212.66,368.94 219.36,396.60 226.05,355.34 232.74,355.34 239.44,383.22 246.13,370.30 252.83,396.60 259.52,320.66 266.21,396.60 272.91,347.18 279.60,385.26 286.30,396.60 292.99,326.78 299.68,306.38 306.38,374.38 313.07,366.22 319.77,356.70 326.46,338.34 333.15,318.62 339.85,377.78 346.54,312.50 353.24,353.30 359.93,371.66 366.62,358.40 373.32,390.02 380.01,396.60 386.71,376.42 393.40,390.02 400.09,324.06 406.79,365.54 413.48,360.78 420.18,355.34 426.87,396.60 433.56,338.34 440.26,328.82 446.95,362.82 453.65,358.06 460.34,359.42 467.03,360.78 473.73,378.80 480.42,384.58" fill="none" stroke="#4aa2dc" stroke-width="1.1" stroke-opacity="0.8"/>
<line x1="55.1" y1="224" x2="55.1" y2="397.4" stroke="#111" stroke-width="1.6"/>
<line x1="52" y1="396.6" x2="485.4" y2="396.6" stroke="#111" stroke-width="1.15"/>
<circle cx="58.70" cy="396.60" r="1.85" fill="#efe06a" stroke="#1a1500" stroke-width="1.25"/>
<circle cx="65.39" cy="262.18" r="1.85" fill="#efe06a" stroke="#1a1500" stroke-width="1.25"/>
<circle cx="72.09" cy="364.86" r="1.85" fill="#efe06a" stroke="#1a1500" stroke-width="1.25"/>
<circle cx="78.78" cy="368.26" r="1.85" fill="#efe06a" stroke="#1a1500" stroke-width="1.25"/>
<circle cx="85.48" cy="370.98" r="1.85" fill="#efe06a" stroke="#1a1500" stroke-width="1.25"/>
<circle cx="92.17" cy="271.70" r="1.85" fill="#efe06a" stroke="#1a1500" stroke-width="1.25"/>
<circle cx="98.86" cy="396.60" r="1.85" fill="#efe06a" stroke="#1a1500" stroke-width="1.25"/>
<circle cx="105.56" cy="294.82" r="1.85" fill="#efe06a" stroke="#1a1500" stroke-width="1.25"/>
<circle cx="112.25" cy="396.60" r="1.85" fill="#efe06a" stroke="#1a1500" stroke-width="1.25"/>
<circle cx="118.95" cy="357.38" r="1.85" fill="#efe06a" stroke="#1a1500" stroke-width="1.25"/>
<circle cx="125.64" cy="339.70" r="1.85" fill="#efe06a" stroke="#1a1500" stroke-width="1.25"/>
<circle cx="132.33" cy="396.60" r="1.85" fill="#efe06a" stroke="#1a1500" stroke-width="1.25"/>
<circle cx="139.03" cy="379.14" r="1.85" fill="#efe06a" stroke="#1a1500" stroke-width="1.25"/>
<circle cx="145.72" cy="343.10" r="1.85" fill="#efe06a" stroke="#1a1500" stroke-width="1.25"/>
<circle cx="152.42" cy="343.78" r="1.85" fill="#efe06a" stroke="#1a1500" stroke-width="1.25"/>
<circle cx="159.11" cy="362.82" r="1.85" fill="#efe06a" stroke="#1a1500" stroke-width="1.25"/>
<circle cx="165.80" cy="346.50" r="1.85" fill="#efe06a" stroke="#1a1500" stroke-width="1.25"/>
<circle cx="172.50" cy="330.86" r="1.85" fill="#efe06a" stroke="#1a1500" stroke-width="1.25"/>
<circle cx="179.19" cy="365.54" r="1.85" fill="#efe06a" stroke="#1a1500" stroke-width="1.25"/>
<circle cx="185.89" cy="396.60" r="1.85" fill="#efe06a" stroke="#1a1500" stroke-width="1.25"/>
<circle cx="192.58" cy="336.98" r="1.85" fill="#efe06a" stroke="#1a1500" stroke-width="1.25"/>
<circle cx="199.27" cy="307.06" r="1.85" fill="#efe06a" stroke="#1a1500" stroke-width="1.25"/>
<circle cx="205.97" cy="396.60" r="1.85" fill="#efe06a" stroke="#1a1500" stroke-width="1.25"/>
<circle cx="212.66" cy="368.94" r="1.85" fill="#efe06a" stroke="#1a1500" stroke-width="1.25"/>
<circle cx="219.36" cy="396.60" r="1.85" fill="#efe06a" stroke="#1a1500" stroke-width="1.25"/>
<circle cx="226.05" cy="355.34" r="1.85" fill="#efe06a" stroke="#1a1500" stroke-width="1.25"/>
<circle cx="232.74" cy="355.34" r="1.85" fill="#efe06a" stroke="#1a1500" stroke-width="1.25"/>
<circle cx="239.44" cy="383.22" r="1.85" fill="#efe06a" stroke="#1a1500" stroke-width="1.25"/>
<circle cx="246.13" cy="370.30" r="1.85" fill="#efe06a" stroke="#1a1500" stroke-width="1.25"/>
<circle cx="252.83" cy="396.60" r="1.85" fill="#efe06a" stroke="#1a1500" stroke-width="1.25"/>
<circle cx="259.52" cy="320.66" r="1.85" fill="#efe06a" stroke="#1a1500" stroke-width="1.25"/>
<circle cx="266.21" cy="396.60" r="1.85" fill="#efe06a" stroke="#1a1500" stroke-width="1.25"/>
<circle cx="272.91" cy="347.18" r="1.85" fill="#efe06a" stroke="#1a1500" stroke-width="1.25"/>
<circle cx="279.60" cy="385.26" r="1.85" fill="#efe06a" stroke="#1a1500" stroke-width="1.25"/>
<circle cx="286.30" cy="396.60" r="1.85" fill="#efe06a" stroke="#1a1500" stroke-width="1.25"/>
<circle cx="292.99" cy="326.78" r="1.85" fill="#efe06a" stroke="#1a1500" stroke-width="1.25"/>
<circle cx="299.68" cy="306.38" r="1.85" fill="#efe06a" stroke="#1a1500" stroke-width="1.25"/>
<circle cx="306.38" cy="374.38" r="1.85" fill="#efe06a" stroke="#1a1500" stroke-width="1.25"/>
<circle cx="313.07" cy="366.22" r="1.85" fill="#efe06a" stroke="#1a1500" stroke-width="1.25"/>
<circle cx="319.77" cy="356.70" r="1.85" fill="#efe06a" stroke="#1a1500" stroke-width="1.25"/>
<circle cx="326.46" cy="338.34" r="1.85" fill="#efe06a" stroke="#1a1500" stroke-width="1.25"/>
<circle cx="333.15" cy="318.62" r="1.85" fill="#efe06a" stroke="#1a1500" stroke-width="1.25"/>
<circle cx="339.85" cy="377.78" r="1.85" fill="#efe06a" stroke="#1a1500" stroke-width="1.25"/>
<circle cx="346.54" cy="312.50" r="1.85" fill="#efe06a" stroke="#1a1500" stroke-width="1.25"/>
<circle cx="353.24" cy="353.30" r="1.85" fill="#efe06a" stroke="#1a1500" stroke-width="1.25"/>
<circle cx="359.93" cy="371.66" r="1.85" fill="#efe06a" stroke="#1a1500" stroke-width="1.25"/>
<circle cx="366.62" cy="358.40" r="1.85" fill="#efe06a" stroke="#1a1500" stroke-width="1.25"/>
<circle cx="373.32" cy="390.02" r="1.85" fill="#efe06a" stroke="#1a1500" stroke-width="1.25"/>
<circle cx="380.01" cy="396.60" r="1.85" fill="#efe06a" stroke="#1a1500" stroke-width="1.25"/>
<circle cx="386.71" cy="376.42" r="1.85" fill="#efe06a" stroke="#1a1500" stroke-width="1.25"/>
<circle cx="393.40" cy="390.02" r="1.85" fill="#efe06a" stroke="#1a1500" stroke-width="1.25"/>
<circle cx="400.09" cy="324.06" r="1.85" fill="#efe06a" stroke="#1a1500" stroke-width="1.25"/>
<circle cx="406.79" cy="365.54" r="1.85" fill="#efe06a" stroke="#1a1500" stroke-width="1.25"/>
<circle cx="413.48" cy="360.78" r="1.85" fill="#efe06a" stroke="#1a1500" stroke-width="1.25"/>
<circle cx="420.18" cy="355.34" r="1.85" fill="#efe06a" stroke="#1a1500" stroke-width="1.25"/>
<circle cx="426.87" cy="396.60" r="1.85" fill="#efe06a" stroke="#1a1500" stroke-width="1.25"/>
<circle cx="433.56" cy="338.34" r="1.85" fill="#efe06a" stroke="#1a1500" stroke-width="1.25"/>
<circle cx="440.26" cy="328.82" r="1.85" fill="#efe06a" stroke="#1a1500" stroke-width="1.25"/>
<circle cx="446.95" cy="362.82" r="1.85" fill="#efe06a" stroke="#1a1500" stroke-width="1.25"/>
<circle cx="453.65" cy="358.06" r="1.85" fill="#efe06a" stroke="#1a1500" stroke-width="1.25"/>
<circle cx="460.34" cy="359.42" r="1.85" fill="#efe06a" stroke="#1a1500" stroke-width="1.25"/>
<circle cx="467.03" cy="360.78" r="1.85" fill="#efe06a" stroke="#1a1500" stroke-width="1.25"/>
<circle cx="473.73" cy="378.80" r="1.85" fill="#efe06a" stroke="#1a1500" stroke-width="1.25"/>
<circle cx="480.42" cy="384.58" r="1.85" fill="#efe06a" stroke="#1a1500" stroke-width="1.25"/>
<line x1="52" y1="396.60" x2="55" y2="396.60" stroke="#222" stroke-width="1"/>
<text x="48.5" y="399.40" font-family="Liberation Sans, sans-serif" font-size="7.1" fill="#333" stroke="#333" stroke-width="0.15" text-anchor="end">0%</text>
<line x1="52" y1="362.70" x2="55" y2="362.70" stroke="#222" stroke-width="1"/>
<text x="48.5" y="365.50" font-family="Liberation Sans, sans-serif" font-size="7.1" fill="#333" stroke="#333" stroke-width="0.15" text-anchor="end">5%</text>
<line x1="52" y1="328.80" x2="55" y2="328.80" stroke="#222" stroke-width="1"/>
<text x="48.5" y="331.60" font-family="Liberation Sans, sans-serif" font-size="7.1" fill="#333" stroke="#333" stroke-width="0.15" text-anchor="end">10%</text>
<line x1="52" y1="294.90" x2="55" y2="294.90" stroke="#222" stroke-width="1"/>
<text x="48.5" y="297.70" font-family="Liberation Sans, sans-serif" font-size="7.1" fill="#333" stroke="#333" stroke-width="0.15" text-anchor="end">15%</text>
<line x1="52" y1="261.00" x2="55" y2="261.00" stroke="#222" stroke-width="1"/>
<text x="48.5" y="263.80" font-family="Liberation Sans, sans-serif" font-size="7.1" fill="#333" stroke="#333" stroke-width="0.15" text-anchor="end">20%</text>
<line x1="52" y1="227.10" x2="55" y2="227.10" stroke="#222" stroke-width="1"/>
<text x="48.5" y="229.90" font-family="Liberation Sans, sans-serif" font-size="7.1" fill="#333" stroke="#333" stroke-width="0.15" text-anchor="end">25%</text>
<text x="489" y="398.20" font-family="Liberation Sans, sans-serif" font-size="6" fill="#333" letter-spacing="0.9">0</text>
<text x="489" y="384.13" font-family="Liberation Sans, sans-serif" font-size="6" fill="#333" letter-spacing="0.9">25</text>
<text x="489" y="370.05" font-family="Liberation Sans, sans-serif" font-size="6" fill="#333" letter-spacing="0.9">50</text>
<text x="489" y="355.98" font-family="Liberation Sans, sans-serif" font-size="6" fill="#333" letter-spacing="0.9">75</text>
<text x="489" y="341.90" font-family="Liberation Sans, sans-serif" font-size="6" fill="#333" letter-spacing="0.9">100</text>
<text x="489" y="327.83" font-family="Liberation Sans, sans-serif" font-size="6" fill="#333" letter-spacing="0.9">125</text>
<text x="489" y="313.75" font-family="Liberation Sans, sans-serif" font-size="6" fill="#333" letter-spacing="0.9">150</text>
<text x="489" y="299.68" font-family="Liberation Sans, sans-serif" font-size="6" fill="#333" letter-spacing="0.9">175</text>
<text x="489" y="285.60" font-family="Liberation Sans, sans-serif" font-size="6" fill="#333" letter-spacing="0.9">200</text>
<text x="489" y="271.53" font-family="Liberation Sans, sans-serif" font-size="6" fill="#333" letter-spacing="0.9">225</text>
<text x="489" y="257.45" font-family="Liberation Sans, sans-serif" font-size="6" fill="#333" letter-spacing="0.9">250</text>
<text x="489" y="243.38" font-family="Liberation Sans, sans-serif" font-size="6" fill="#333" letter-spacing="0.9">275</text>
<text x="489" y="229.30" font-family="Liberation Sans, sans-serif" font-size="6" fill="#333" letter-spacing="0.9">300</text>
<line x1="58.70" y1="397.6" x2="58.70" y2="399.8" stroke="#111" stroke-width="1"/>
<text x="58.70" y="409.6" font-family="Liberation Sans, sans-serif" font-size="6.9" fill="#222" stroke="#222" stroke-width="0.25" text-anchor="middle">1</text>
<line x1="72.09" y1="397.6" x2="72.09" y2="399.8" stroke="#111" stroke-width="1"/>
<text x="72.09" y="409.6" font-family="Liberation Sans, sans-serif" font-size="6.9" fill="#222" stroke="#222" stroke-width="0.25" text-anchor="middle">3</text>
<line x1="85.48" y1="397.6" x2="85.48" y2="399.8" stroke="#111" stroke-width="1"/>
<text x="85.48" y="409.6" font-family="Liberation Sans, sans-serif" font-size="6.9" fill="#222" stroke="#222" stroke-width="0.25" text-anchor="middle">5</text>
<line x1="98.86" y1="397.6" x2="98.86" y2="399.8" stroke="#111" stroke-width="1"/>
<text x="98.86" y="409.6" font-family="Liberation Sans, sans-serif" font-size="6.9" fill="#222" stroke="#222" stroke-width="0.25" text-anchor="middle">7</text>
<line x1="112.25" y1="397.6" x2="112.25" y2="399.8" stroke="#111" stroke-width="1"/>
<text x="112.25" y="409.6" font-family="Liberation Sans, sans-serif" font-size="6.9" fill="#222" stroke="#222" stroke-width="0.25" text-anchor="middle">9</text>
<line x1="125.64" y1="397.6" x2="125.64" y2="399.8" stroke="#111" stroke-width="1"/>
<text x="125.64" y="409.6" font-family="Liberation Sans, sans-serif" font-size="6.9" fill="#222" stroke="#222" stroke-width="0.25" text-anchor="middle">11</text>
<line x1="139.03" y1="397.6" x2="139.03" y2="399.8" stroke="#111" stroke-width="1"/>
<text x="139.03" y="409.6" font-family="Liberation Sans, sans-serif" font-size="6.9" fill="#222" stroke="#222" stroke-width="0.25" text-anchor="middle">13</text>
<line x1="152.42" y1="397.6" x2="152.42" y2="399.8" stroke="#111" stroke-width="1"/>
<text x="152.42" y="409.6" font-family="Liberation Sans, sans-serif" font-size="6.9" fill="#222" stroke="#222" stroke-width="0.25" text-anchor="middle">15</text>
<line x1="165.80" y1="397.6" x2="165.80" y2="399.8" stroke="#111" stroke-width="1"/>
<text x="165.80" y="409.6" font-family="Liberation Sans, sans-serif" font-size="6.9" fill="#222" stroke="#222" stroke-width="0.25" text-anchor="middle">17</text>
<line x1="179.19" y1="397.6" x2="179.19" y2="399.8" stroke="#111" stroke-width="1"/>
<text x="179.19" y="409.6" font-family="Liberation Sans, sans-serif" font-size="6.9" fill="#222" stroke="#222" stroke-width="0.25" text-anchor="middle">19</text>
<line x1="192.58" y1="397.6" x2="192.58" y2="399.8" stroke="#111" stroke-width="1"/>
<text x="192.58" y="409.6" font-family="Liberation Sans, sans-serif" font-size="6.9" fill="#222" stroke="#222" stroke-width="0.25" text-anchor="middle">21</text>
<line x1="205.97" y1="397.6" x2="205.97" y2="399.8" stroke="#111" stroke-width="1"/>
<text x="205.97" y="409.6" font-family="Liberation Sans, sans-serif" font-size="6.9" fill="#222" stroke="#222" stroke-width="0.25" text-anchor="middle">23</text>
<line x1="219.36" y1="397.6" x2="219.36" y2="399.8" stroke="#111" stroke-width="1"/>
<text x="219.36" y="409.6" font-family="Liberation Sans, sans-serif" font-size="6.9" fill="#222" stroke="#222" stroke-width="0.25" text-anchor="middle">25</text>
<line x1="232.74" y1="397.6" x2="232.74" y2="399.8" stroke="#111" stroke-width="1"/>
<text x="232.74" y="409.6" font-family="Liberation Sans, sans-serif" font-size="6.9" fill="#222" stroke="#222" stroke-width="0.25" text-anchor="middle">27</text>
<line x1="246.13" y1="397.6" x2="246.13" y2="399.8" stroke="#111" stroke-width="1"/>
<text x="246.13" y="409.6" font-family="Liberation Sans, sans-serif" font-size="6.9" fill="#222" stroke="#222" stroke-width="0.25" text-anchor="middle">29</text>
<line x1="259.52" y1="397.6" x2="259.52" y2="399.8" stroke="#111" stroke-width="1"/>
<text x="259.52" y="409.6" font-family="Liberation Sans, sans-serif" font-size="6.9" fill="#222" stroke="#222" stroke-width="0.25" text-anchor="middle">31</text>
<line x1="272.91" y1="397.6" x2="272.91" y2="399.8" stroke="#111" stroke-width="1"/>
<text x="272.91" y="409.6" font-family="Liberation Sans, sans-serif" font-size="6.9" fill="#222" stroke="#222" stroke-width="0.25" text-anchor="middle">33</text>
<line x1="286.30" y1="397.6" x2="286.30" y2="399.8" stroke="#111" stroke-width="1"/>
<text x="286.30" y="409.6" font-family="Liberation Sans, sans-serif" font-size="6.9" fill="#222" stroke="#222" stroke-width="0.25" text-anchor="middle">35</text>
<line x1="299.68" y1="397.6" x2="299.68" y2="399.8" stroke="#111" stroke-width="1"/>
<text x="299.68" y="409.6" font-family="Liberation Sans, sans-serif" font-size="6.9" fill="#222" stroke="#222" stroke-width="0.25" text-anchor="middle">37</text>
<line x1="313.07" y1="397.6" x2="313.07" y2="399.8" stroke="#111" stroke-width="1"/>
<text x="313.07" y="409.6" font-family="Liberation Sans, sans-serif" font-size="6.9" fill="#222" stroke="#222" stroke-width="0.25" text-anchor="middle">39</text>
<line x1="326.46" y1="397.6" x2="326.46" y2="399.8" stroke="#111" stroke-width="1"/>
<text x="326.46" y="409.6" font-family="Liberation Sans, sans-serif" font-size="6.9" fill="#222" stroke="#222" stroke-width="0.25" text-anchor="middle">41</text>
<line x1="339.85" y1="397.6" x2="339.85" y2="399.8" stroke="#111" stroke-width="1"/>
<text x="339.85" y="409.6" font-family="Liberation Sans, sans-serif" font-size="6.9" fill="#222" stroke="#222" stroke-width="0.25" text-anchor="middle">43</text>
<line x1="353.24" y1="397.6" x2="353.24" y2="399.8" stroke="#111" stroke-width="1"/>
<text x="353.24" y="409.6" font-family="Liberation Sans, sans-serif" font-size="6.9" fill="#222" stroke="#222" stroke-width="0.25" text-anchor="middle">45</text>
<line x1="366.62" y1="397.6" x2="366.62" y2="399.8" stroke="#111" stroke-width="1"/>
<text x="366.62" y="409.6" font-family="Liberation Sans, sans-serif" font-size="6.9" fill="#222" stroke="#222" stroke-width="0.25" text-anchor="middle">47</text>
<line x1="380.01" y1="397.6" x2="380.01" y2="399.8" stroke="#111" stroke-width="1"/>
<text x="380.01" y="409.6" font-family="Liberation Sans, sans-serif" font-size="6.9" fill="#222" stroke="#222" stroke-width="0.25" text-anchor="middle">49</text>
<line x1="393.40" y1="397.6" x2="393.40" y2="399.8" stroke="#111" stroke-width="1"/>
<text x="393.40" y="409.6" font-family="Liberation Sans, sans-serif" font-size="6.9" fill="#222" stroke="#222" stroke-width="0.25" text-anchor="middle">51</text>
<line x1="406.79" y1="397.6" x2="406.79" y2="399.8" stroke="#111" stroke-width="1"/>
<text x="406.79" y="409.6" font-family="Liberation Sans, sans-serif" font-size="6.9" fill="#222" stroke="#222" stroke-width="0.25" text-anchor="middle">53</text>
<line x1="420.18" y1="397.6" x2="420.18" y2="399.8" stroke="#111" stroke-width="1"/>
<text x="420.18" y="409.6" font-family="Liberation Sans, sans-serif" font-size="6.9" fill="#222" stroke="#222" stroke-width="0.25" text-anchor="middle">55</text>
<line x1="433.56" y1="397.6" x2="433.56" y2="399.8" stroke="#111" stroke-width="1"/>
<text x="433.56" y="409.6" font-family="Liberation Sans, sans-serif" font-size="6.9" fill="#222" stroke="#222" stroke-width="0.25" text-anchor="middle">57</text>
<line x1="446.95" y1="397.6" x2="446.95" y2="399.8" stroke="#111" stroke-width="1"/>
<text x="446.95" y="409.6" font-family="Liberation Sans, sans-serif" font-size="6.9" fill="#222" stroke="#222" stroke-width="0.25" text-anchor="middle">59</text>
<line x1="460.34" y1="397.6" x2="460.34" y2="399.8" stroke="#111" stroke-width="1"/>
<text x="460.34" y="409.6" font-family="Liberation Sans, sans-serif" font-size="6.9" fill="#222" stroke="#222" stroke-width="0.25" text-anchor="middle">61</text>
<line x1="473.73" y1="397.6" x2="473.73" y2="399.8" stroke="#111" stroke-width="1"/>
<text x="473.73" y="409.6" font-family="Liberation Sans, sans-serif" font-size="6.9" fill="#222" stroke="#222" stroke-width="0.25" text-anchor="middle">63</text>
<text x="248.7" y="422.9" font-family="Liberation Sans, sans-serif" font-size="9.2" fill="#222" stroke="#222" stroke-width="0.25" textLength="43" lengthAdjust="spacingAndGlyphs">Cancer center</text>
<text transform="translate(28.2,368.5) rotate(-90)" font-family="Liberation Sans, sans-serif" font-size="9.4" fill="#222" stroke="#222" stroke-width="0.25" textLength="116" lengthAdjust="spacingAndGlyphs">Proportion of classical hematologists</text>
<text transform="translate(510.9,343.9) rotate(-90)" font-family="Liberation Sans, sans-serif" font-size="6.8" fill="#333" stroke="#333" stroke-width="0.1" textLength="66" lengthAdjust="spacingAndGlyphs">Number of physicians</text>
</svg><div id="b"></div></div></body></html>
